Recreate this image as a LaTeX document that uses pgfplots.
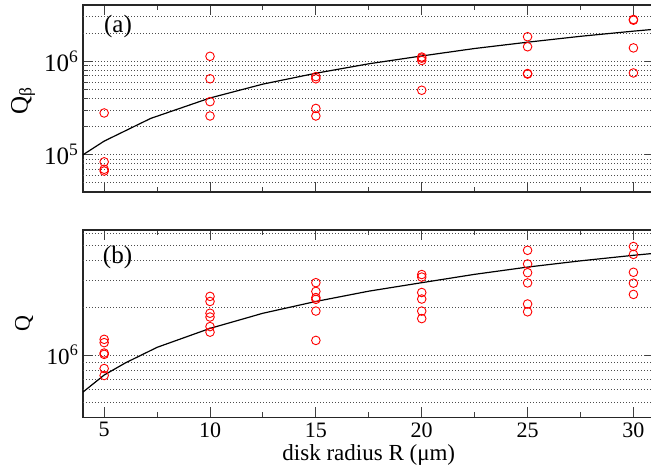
\documentclass[border=0pt]{standalone}
\usepackage{fontspec}
\setmainfont{Liberation Serif}
\usepackage{pgfplots}
\pgfplotsset{compat=1.18}
\newcommand{\fs}[1]{\fontsize{#1}{#1}\selectfont}
\pgfplotsset{
 mystyle/.style={
  scale only axis,
  width=571.6pt,
  xmin=4, xmax=31,
  axis line style={line width=1.3pt, black!85},
  xtick={5,10,15,20,25,30},
  xticklabels={5,10,15,20,25,30},
  minor x tick num=1,
  major tick length=10pt,
  minor tick length=5pt,
  tick style={line width=1pt, black!75},
  ymajorgrids,
  major grid style={dash pattern=on 1pt off 2pt, line width=0.9pt, black!70},
  extra y tick style={major tick length=0pt, grid=major},
  extra y tick labels={},
  xticklabel style={font=\fs{22}, inner sep=0pt, anchor=north, yshift=-5pt},
  clip=true,
 },
 circ/.style={only marks, mark=o, mark size=4.3pt, mark options={red, line width=0.9pt}},
 curve/.style={no marks, black, line width=1.2pt},
}
\begin{document}
\begin{tikzpicture}
\path[use as bounding box] (0,0) rectangle (651pt,470pt);
% ---------- (a) ----------
\begin{semilogyaxis}[mystyle,
  at={(83pt,278pt)}, anchor=south west, height=187pt,
  ymin=4e4, ymax=4e6,
  ytick={1e5,1e6},
  yticklabels={10\textsuperscript{5},10\textsuperscript{6}},
  yticklabel style={font=\fs{25}, inner sep=0pt, anchor=east, xshift=-4.5pt},
  extra y ticks={5e4,6e4,7e4,8e4,9e4,2e5,3e5,4e5,5e5,6e5,7e5,8e5,9e5,2e6,3e6},
  xticklabels={},
  ylabel={Q\textsubscript{β}},
  every axis y label/.style={at={(axis description cs:-0.105,0.49)}, rotate=90, anchor=center, inner sep=0pt, font=\fs{25}},
]
\addplot[curve] coordinates {
(4,1.0e5) (5,1.4e5) (7.2,2.45e5) (10,4.05e5) (12.5,5.7e5) (15,7.45e5)
(17.5,9.4e5) (20,1.14e6) (22.5,1.37e6) (25,1.6e6) (27.5,1.85e6) (30,2.1e6) (31,2.2e6)};
\addplot[circ] coordinates {
(5,2.8e5) (5,8.4e4) (5,7.0e4) (5,6.7e4)
(10,1.13e6) (10,6.5e5) (10,3.7e5) (10,2.6e5)
(15,6.85e5) (15,6.5e5) (15,3.13e5) (15,2.6e5)
(20,1.11e6) (20,1.08e6) (20,1.02e6) (20,4.9e5)
(25,1.83e6) (25,1.43e6) (25,7.4e5) (25,7.3e5)
(30,2.8e6) (30,2.75e6) (30,1.39e6) (30,7.5e5)};
\node[font=\fs{25}, inner sep=0pt] at (rel axis cs:0.0612,0.885) {(a)};
\end{semilogyaxis}
% ---------- (b) ----------
\begin{semilogyaxis}[mystyle,
  at={(83pt,52.7pt)}, anchor=south west, height=187.3pt,
  ymin=4e5, ymax=6.3e6,
  ytick={1e6},
  yticklabels={10\textsuperscript{6}},
  yticklabel style={font=\fs{23}, inner sep=0pt, anchor=east, xshift=-4.5pt},
  extra y ticks={5e5,6e5,7e5,8e5,9e5,2e6,3e6,4e6,5e6,6e6},
  xlabel={disk radius R (μm)},
  every axis x label/.style={at={(axis description cs:0.5,0)}, anchor=base, yshift=-43pt, inner sep=0pt, font=\fs{23}},
  ylabel={Q},
  every axis y label/.style={at={(axis description cs:-0.103,0.5)}, rotate=90, anchor=center, inner sep=0pt, font=\fs{22}},
]
\addplot[curve] coordinates {
(4,5.8e5) (5,7.45e5) (6,8.9e5) (7.5,1.12e6) (10,1.48e6) (12.5,1.85e6) (15,2.2e6)
(17.5,2.56e6) (20,2.9e6) (22.5,3.28e6) (25,3.65e6) (27.5,4.0e6) (30,4.34e6) (31,4.47e6)};
\addplot[circ] coordinates {
(5,1.26e6) (5,1.2e6) (5,1.03e6) (5,1.01e6) (5,8.2e5) (5,7.4e5)
(10,2.37e6) (10,2.2e6) (10,1.85e6) (10,1.75e6) (10,1.52e6) (10,1.4e6)
(15,2.9e6) (15,2.55e6) (15,2.33e6) (15,2.27e6) (15,1.91e6) (15,1.24e6)
(20,3.27e6) (20,3.15e6) (20,2.51e6) (20,2.28e6) (20,1.91e6) (20,1.71e6)
(25,4.67e6) (25,3.82e6) (25,3.36e6) (25,2.89e6) (25,2.12e6) (25,1.89e6)
(30,4.94e6) (30,4.4e6) (30,3.38e6) (30,2.88e6) (30,2.44e6)};
\node[font=\fs{25}, inner sep=0pt] at (rel axis cs:0.0604,0.853) {(b)};
\end{semilogyaxis}
\end{tikzpicture}
\end{document}
